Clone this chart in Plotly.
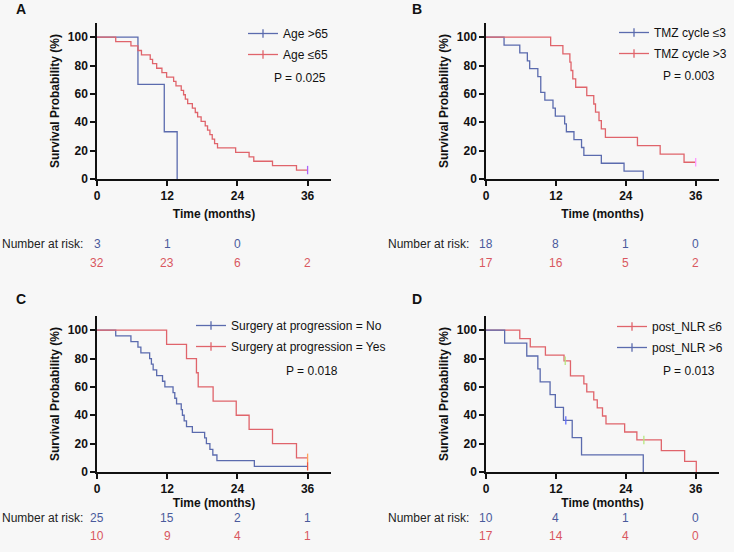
import plotly.graph_objects as go

W, H = 734, 552

# ---------------- data ----------------
# Panel A
A_blue_name = "Age >65"
A_blue_t = [0, 7.0, 11.5, 13.7]
A_blue_s = [100, 66.7, 33.3, 0]
A_blue_cens = []
A_red_name = "Age ≤65"
A_red_t = [0, 3.2, 5.8, 7.0, 7.6, 9.1, 9.5, 10.2, 11.1, 11.9, 13.1, 13.5, 14.4, 14.8, 15.1, 15.5,
           16.3, 16.8, 17.2, 17.8, 18.5, 18.9, 19.3, 19.7, 20.1, 20.6, 23.7, 26.0, 26.8, 30.0, 34.1, 36.0]
A_red_s = [100, 96.9, 93.8, 90.6, 87.5, 84.4, 81.3, 78.1, 75.0, 71.9, 68.8, 65.6, 62.5, 59.4, 56.3, 53.1,
           50.0, 46.9, 43.8, 40.6, 37.5, 34.4, 31.3, 28.1, 25.0, 21.9, 18.8, 15.6, 12.5, 9.4, 6.3, 6.3]
A_red_cens = [36.0]
A_p = "P = 0.025"
A_risk_blue = [3, 1, 0]
A_risk_red = [32, 23, 6, 2]

# Panel B
B_blue_name = "TMZ cycle ≤3"
B_blue_t = [0, 3.1, 5.8, 7.1, 7.5, 8.9, 9.4, 10.1, 11.5, 11.9, 13.5, 13.8, 15.1, 16.4, 16.8, 19.8, 23.7, 27.0]
B_blue_s = [100, 94.4, 88.9, 83.3, 77.8, 72.2, 61.1, 55.6, 50.0, 44.4, 38.9, 33.3, 27.8, 22.2, 16.7, 11.1, 5.6, 0]
B_blue_cens = []
B_red_name = "TMZ cycle >3"
B_red_t = [0, 11.1, 13.2, 14.4, 14.6, 14.9, 15.4, 17.3, 18.5, 18.8, 19.4, 19.8, 20.5, 26.0, 29.9, 34.0, 36.0]
B_red_s = [100, 94.1, 88.2, 82.4, 76.5, 70.6, 64.7, 58.8, 52.9, 47.1, 41.2, 35.3, 29.4, 23.5, 17.6, 11.8, 11.8]
B_red_cens = [36.0]
B_p = "P = 0.003"
B_risk_blue = [18, 8, 1, 0]
B_risk_red = [17, 16, 5, 2]

# Panel C
C_blue_name = "Surgery at progression = No"
C_blue_t = [0, 3.2, 5.8, 7.0, 7.5, 9.0, 9.3, 9.6, 10.2, 11.2, 11.6, 13.0, 13.3, 13.6, 14.4, 14.6, 14.9,
            15.3, 16.3, 18.4, 18.7, 19.3, 19.8, 20.5, 26.9, 36.0]
C_blue_s = [100, 96, 92, 88, 84, 80, 76, 72, 68, 64, 60, 56, 52, 48, 44, 40, 36,
            32, 28, 24, 20, 16, 12, 8, 4, 4]
C_blue_cens = [36.0]
C_red_name = "Surgery at progression = Yes"
C_red_t = [0, 11.9, 15.3, 17.0, 17.3, 19.85, 23.8, 26.0, 30.0, 34.1, 36.0]
C_red_s = [100, 90, 80, 70, 60, 50, 40, 30, 20, 10, 10]
C_red_cens = [36.0]
C_p = "P = 0.018"
C_risk_blue = [25, 15, 2, 1]
C_risk_red = [10, 9, 4, 1]

# Panel D
D_red_name = "post_NLR ≤6"
D_red_t = [0, 5.8, 7.6, 10.2, 13.4, 14.5, 16.8, 17.3, 18.5, 19.1, 20.0, 20.6, 23.8, 25.9, 30.1, 34.1, 36.1]
D_red_s = [100, 94.1, 88.2, 82.4, 78.4, 67.8, 62.1, 56.5, 50.8, 45.2, 39.5, 33.9, 28.2, 22.6, 15.1, 7.5, 0]
D_red_cens = [13.6, 27.1]
D_blue_name = "post_NLR >6"
D_blue_t = [0, 3.2, 7.0, 8.9, 9.3, 11.0, 11.9, 13.3, 14.8, 16.4, 27.0]
D_blue_s = [100, 90.9, 81.8, 72.7, 63.6, 54.5, 45.5, 36.4, 24.2, 12.1, 0]
D_blue_cens = [13.7]
D_p = "P = 0.013"
D_risk_blue = [10, 4, 1, 0]
D_risk_red = [17, 14, 4, 0]

risk_times = [0, 12, 24, 36]
x_ticks = [0, 12, 24, 36]
y_ticks = [0, 20, 40, 60, 80, 100]

# ---------------- style ----------------
BLUE = "#5b6bae"
RED = "#e0646b"
BLUE_TXT = "#4a5a9c"
RED_TXT = "#d9575f"
BG = "#f7f7f7"
FONT = "Liberation Sans, Arial, Helvetica, sans-serif"


def fx(p):
    return p / W


def fy(p):
    return 1 - p / H


def level_at(ts, ss, t):
    v = ss[0]
    for ti, si in zip(ts, ss):
        if ti <= t:
            v = si
    return v


# panel pixel boxes: (x0, x1, ytop, ybottom)
panels = {
    "A": dict(box=(97, 331, 23, 179), ax="", letter=(21, 9)),
    "B": dict(box=(486, 719, 23, 179), ax="2", letter=(417, 9)),
    "C": dict(box=(97, 331, 316, 472), ax="3", letter=(21, 299)),
    "D": dict(box=(486, 719, 316, 472), ax="4", letter=(417, 299)),
}

fig = go.Figure()

curves = {
    "A": [(A_blue_name, A_blue_t, A_blue_s, A_blue_cens, BLUE), (A_red_name, A_red_t, A_red_s, A_red_cens, RED)],
    "B": [(B_blue_name, B_blue_t, B_blue_s, B_blue_cens, BLUE), (B_red_name, B_red_t, B_red_s, B_red_cens, RED)],
    "C": [(C_blue_name, C_blue_t, C_blue_s, C_blue_cens, BLUE), (C_red_name, C_red_t, C_red_s, C_red_cens, RED)],
    "D": [(D_red_name, D_red_t, D_red_s, D_red_cens, RED), (D_blue_name, D_blue_t, D_blue_s, D_blue_cens, BLUE)],
}

legend_ids = {"A": "legend", "B": "legend2", "C": "legend3", "D": "legend4"}

for key, info in panels.items():
    ax = info["ax"]
    xa = "x" + ax
    ya = "y" + ax
    for i, (name, ts, ss, cens, col) in enumerate(curves[key]):
        fig.add_trace(go.Scatter(x=ts, y=ss, mode="lines", line=dict(color=col, width=1.3, shape="hv"),
                                 xaxis=xa, yaxis=ya, showlegend=False, hoverinfo="skip"))
        if cens:
            fig.add_trace(go.Scatter(x=cens, y=[level_at(ts, ss, c) for c in cens], mode="markers",
                                     marker=dict(symbol="line-ns-open", size=6, line=dict(color=col, width=1.3)),
                                     xaxis=xa, yaxis=ya, showlegend=False, hoverinfo="skip", cliponaxis=False))
        # legend entry
        fig.add_trace(go.Scatter(x=[None], y=[None], mode="lines+markers", name=name,
                                 legendgroup=key + str(i),
                                 line=dict(color=col, width=1.3),
                                 marker=dict(symbol="line-ns-open", size=6, line=dict(color=col, width=1.3)),
                                 xaxis=xa, yaxis=ya, legend=legend_ids[key]))

layout = dict(
    width=W, height=H, margin=dict(l=0, r=0, t=0, b=0, autoexpand=False),
    paper_bgcolor=BG, plot_bgcolor=BG,
    font=dict(family=FONT, size=12, color="#111111"),
    annotations=[],
)

axis_common = dict(showline=True, linecolor="#111111", linewidth=1.5, ticks="outside", ticklen=5,
                   tickwidth=1.5, tickcolor="#111111", showgrid=False, zeroline=False, automargin=False,
                   tickfont=dict(family=FONT, size=12, color="#111111", weight="bold"))

for key, info in panels.items():
    x0, x1, yt, yb = info["box"]
    ax = info["ax"]
    xname = "xaxis" + ax
    yname = "yaxis" + ax
    layout[xname] = dict(axis_common, domain=[fx(x0), fx(x1)], range=[0, 40], tickvals=x_ticks,
                         anchor="y" + ax,
                         title=dict(text="Time (months)", standoff=7 if key in "AB" else 2,
                                    font=dict(family=FONT, size=12, weight="bold")))
    layout[yname] = dict(axis_common, domain=[fy(yb), fy(yt)], range=[0, 110], tickvals=y_ticks,
                         anchor="x" + ax,
                         title=dict(text="Survival Probability (%)", standoff=6,
                                    font=dict(family=FONT, size=12, weight="bold")))

# legends
legend_pos = {"A": (243, 19), "B": (614, 18), "C": (191, 311), "D": (612, 312)}
for key, (lx, ly) in legend_pos.items():
    layout[legend_ids[key]] = dict(x=fx(lx), y=fy(ly), xanchor="left", yanchor="top",
                                   bgcolor="rgba(0,0,0,0)", itemwidth=30,
                                   traceorder="grouped", tracegroupgap=2,
                                   font=dict(family=FONT, size=12, color="#111111"))

ann = layout["annotations"]
# panel letters
for key, info in panels.items():
    lx, ly = info["letter"]
    ann.append(dict(text=key, x=fx(lx), y=fy(ly), xref="paper", yref="paper", showarrow=False,
                    xanchor="center", yanchor="middle", font=dict(size=14, weight="bold", color="#111111")))

# p-values
p_pos = {"A": (A_p, 328, 78), "B": (B_p, 717, 76), "C": (C_p, 340, 371), "D": (D_p, 717, 371)}
for key, (txt, px, py) in p_pos.items():
    ann.append(dict(text=txt, x=fx(px), y=fy(py), xref="paper", yref="paper", showarrow=False,
                    xanchor="right", yanchor="middle", font=dict(size=12, color="#111111")))

# number at risk tables
risk = {"A": (A_risk_blue, A_risk_red, 85, 244, 263),
        "B": (B_risk_blue, B_risk_red, 471, 244, 263),
        "C": (C_risk_blue, C_risk_red, 85, 518, 536),
        "D": (D_risk_blue, D_risk_red, 471, 518, 536)}
for key, (rb, rr, lab_x, yb_, yr_) in risk.items():
    ax = panels[key]["ax"]
    ann.append(dict(text="Number at risk:", x=fx(lab_x), y=fy(yb_), xref="paper", yref="paper",
                    showarrow=False, xanchor="right", yanchor="middle", font=dict(size=12, color="#222222")))
    for t, v in zip(risk_times, rb):
        ann.append(dict(text=str(v), x=t, y=fy(yb_), xref="x" + ax, yref="paper", showarrow=False,
                        xanchor="center", yanchor="middle", font=dict(size=12, color=BLUE_TXT)))
    for t, v in zip(risk_times, rr):
        ann.append(dict(text=str(v), x=t, y=fy(yr_), xref="x" + ax, yref="paper", showarrow=False,
                        xanchor="center", yanchor="middle", font=dict(size=12, color=RED_TXT)))

fig.update_layout(**layout)
fig.write_html("out.html", config={"displayModeBar": False},
               post_script="document.body.style.margin='0px';document.body.style.background='" + BG + "';")
